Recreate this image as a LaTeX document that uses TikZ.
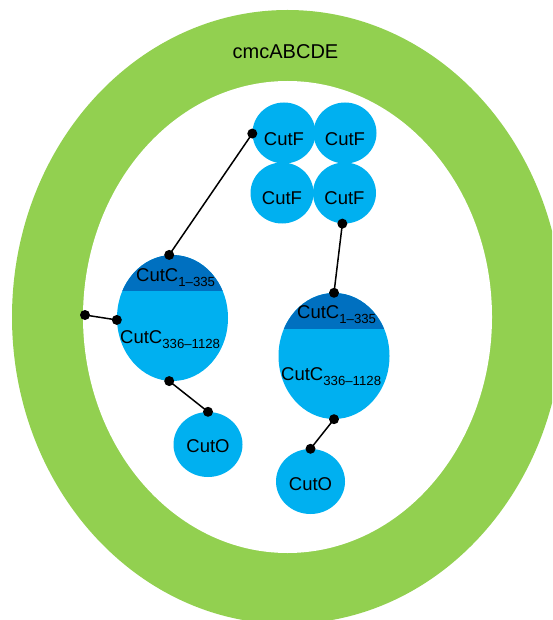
\documentclass[tikz,border=0pt]{standalone}
\usepackage{fontspec}
\setmainfont{Liberation Sans}
\usetikzlibrary{shapes.geometric}
\definecolor{ringgreen}{HTML}{92D050}
\definecolor{lblue}{HTML}{00B0F0}
\definecolor{dblue}{HTML}{0070C0}
\newcommand{\subtxt}[1]{\raisebox{-5pt}{\fontsize{13.2}{14}\selectfont #1}}
\tikzset{
  lbl/.style={font=\fontsize{18.5}{20}\selectfont, inner sep=0pt},
  blob/.style={ellipse, fill=lblue, inner sep=0pt},
  cutf/.style={blob, minimum width=63pt, minimum height=61pt},
  cuto/.style={blob, minimum width=69pt, minimum height=65pt},
  cutc/.style={blob, minimum width=111pt, minimum height=126pt,
    path picture={\fill[dblue] (path picture bounding box.north west) rectangle ([yshift=-36pt]path picture bounding box.north east);}},
  dot/.style={circle, fill=black, inner sep=0pt, minimum size=10pt},
  link/.style={line width=1.5pt, black}
}
\begin{document}
\begin{tikzpicture}[x=1pt, y=-1pt]
\useasboundingbox (0,0) rectangle (552,620);
\begin{scope}
\clip (0,0) rectangle (552,620);
\fill[ringgreen] (287.5,317) ellipse [x radius=275.5, y radius=307];
\fill[white] (287.5,317) ellipse [x radius=204.5, y radius=236];
\end{scope}
\node[lbl, anchor=base, font=\fontsize{20}{22}\selectfont] (title) at (285.5,58.3) {cmcABCDE};

% CutF cluster
\node[cutf] (f1) at (284,133) {};
\node[cutf] (f2) at (345,133) {};
\node[cutf] (f3) at (282,193) {};
\node[cutf] (f4) at (344.5,193) {};
\node[lbl] (f1t) at ([yshift=-6pt]f1.center) {CutF};
\node[lbl] (f2t) at ([yshift=-6pt]f2.center) {CutF};
\node[lbl] (f3t) at ([yshift=-5pt]f3.center) {CutF};
\node[lbl] (f4t) at ([yshift=-5pt]f4.center) {CutF};

% CutC left
\node[cutc] (c1) at (172.5,318) {};
\node[lbl, anchor=base west] (c1a) at (136,281.7) {CutC\subtxt{1–335}};
\node[lbl, anchor=base west] (c1b) at (120,343) {CutC\subtxt{336–1128}};

% CutC right
\node[cutc] (c2) at (334,356) {};
\node[lbl, anchor=base west] (c2a) at (297,318.3) {CutC\subtxt{1–335}};
\node[lbl, anchor=base west] (c2b) at (281,380) {CutC\subtxt{336–1128}};

% CutO
\node[cuto] (o1) at (208,444.5) {};
\node[lbl] (o1t) at ([yshift=-1.5pt]o1.center) {CutO};
\node[cuto] (o2) at (310.5,481.5) {};
\node[lbl] (o2t) at ([yshift=-2.5pt]o2.center) {CutO};

% connectors
\coordinate (free) at (85,315);
\node[dot] (dfree) at (free) {};
\node[dot] (dc1l) at (c1.182) {};
\node[dot] (dc1t) at (c1.93) {};
\node[dot] (dc1b) at (c1.267) {};
\node[dot] (df1) at (f1.181) {};
\node[dot] (do1) at (o1.north) {};
\node[dot] (df4) at (f4.266) {};
\node[dot] (dc2t) at (c2.north) {};
\node[dot] (dc2b) at (c2.south) {};
\node[dot] (do2) at (o2.north) {};

\draw[link] (dfree.center) -- (dc1l.center);
\draw[link] (dc1t.center) -- (df1.center);
\draw[link] (dc1b.center) -- (do1.center);
\draw[link] (df4.center) -- (dc2t.center);
\draw[link] (dc2b.center) -- (do2.center);
\end{tikzpicture}
\end{document}
